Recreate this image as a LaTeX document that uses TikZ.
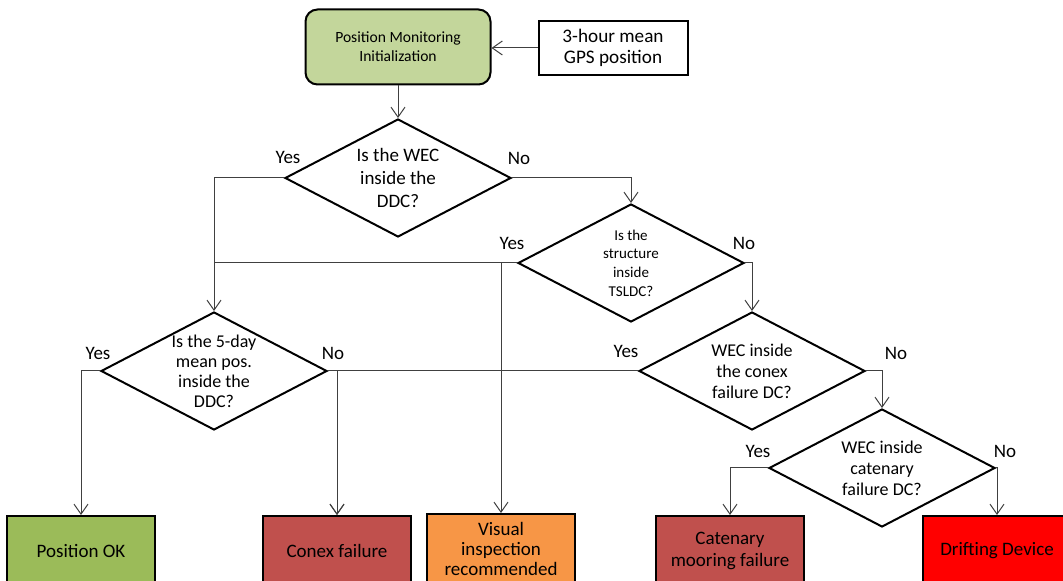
\documentclass[tikz,border=0pt]{standalone}
\usepackage{fontspec}
\setmainfont{Carlito}
\usepackage{tikz}
\usetikzlibrary{arrows.meta,shapes.geometric}
\definecolor{initgreen}{HTML}{C3D69B}
\definecolor{okgreen}{HTML}{9BBB59}
\definecolor{failred}{HTML}{C0504D}
\definecolor{warnorange}{HTML}{F79646}
\definecolor{alarmred}{HTML}{FF0000}
\definecolor{wiregray}{HTML}{404040}
\tikzset{
  startnode/.style={draw=black,line width=1pt,rounded corners=6pt,fill=initgreen,minimum width=92.5pt,minimum height=37.5pt,align=center,font=\fontsize{7.8}{9.5}\selectfont},
  inputnode/.style={draw=black,line width=1pt,fill=white,minimum width=74.5pt,minimum height=27pt,align=center,font=\fontsize{9.6}{10.5}\selectfont},
  decnode/.style={diamond,draw=black,line width=1pt,fill=white,aspect=1.9,inner sep=0pt,minimum width=113pt,minimum height=59pt,align=center,font=\fontsize{9}{10.5}\selectfont},
  outnode/.style={draw=black,line width=1pt,minimum width=74pt,minimum height=35pt,align=center,font=\fontsize{9.5}{11}\selectfont},
  flowline/.style={draw=wiregray,line width=0.5pt},
  flowarrow/.style={flowline,-{Straight Barb[length=5pt,width=7pt]}},
  anslabel/.style={font=\fontsize{9.5}{11}\selectfont},
}
\begin{document}
\begin{tikzpicture}[x=0.5pt,y=-0.5pt]
    \useasboundingbox (0,0) rectangle (1063,581);
    \node[startnode] (init) at (398,47) {Position Monitoring\\Initialization};
    \node[inputnode] (gps) at (613,48) {3-hour mean\\GPS position};
    \node[decnode,font=\fontsize{9.5}{11.5}\selectfont] (wec) at (398,178) {Is the WEC\\inside the\\DDC?};
    \node[decnode,font=\fontsize{7.5}{9.3}\selectfont] (tsldc) at (631,263) {Is the\\structure\\inside\\TSLDC?};
    \node[decnode,font=\fontsize{9}{10}\selectfont] (fiveday) at (214,371) {Is the 5-day\\mean pos.\\inside the\\DDC?};
    \node[decnode] (conexdc) at (752,371) {WEC inside\\the conex\\failure DC?};
    \node[decnode] (catdc) at (882,468) {WEC inside\\catenary\\failure DC?};
    \node[outnode,fill=okgreen] (posok) at (81,551) {Position OK};
    \node[outnode,fill=failred] (conex) at (337,551) {Conex failure};
    \node[outnode,fill=warnorange,font=\fontsize{9.5}{10.2}\selectfont] (visual) at (501,549) {Visual\\inspection\\recommended};
    \node[outnode,fill=failred] (catfail) at (730,551) {Catenary\\mooring failure};
    \node[outnode,fill=alarmred] (drift) at (997,551) {Drifting Device};
    \node[anslabel] (wecyes) at (288,157) {Yes};
    \node[anslabel] (wecno) at (519,158) {No};
    \node[anslabel] (tsldcyes) at (512,243) {Yes};
    \node[anslabel] (tsldcno) at (744,243) {No};
    \node[anslabel] (fivedayyes) at (98,353) {Yes};
    \node[anslabel] (fivedayno) at (333,353) {No};
    \node[anslabel] (conexdcyes) at (626,351) {Yes};
    \node[anslabel] (conexdcno) at (896,353) {No};
    \node[anslabel] (catdcyes) at (758,451) {Yes};
    \node[anslabel] (catdcno) at (1005,451) {No};
    \coordinate (yesjoin) at (tsldc.west -| visual.north);
    \draw[flowarrow] (gps.west) -- (gps.west -| init.east);
    \draw[flowarrow] (init) -- (wec);
    \draw[flowarrow] (wec.west) -| (fiveday.north);
    \draw[flowarrow] (wec.east) -| (tsldc.north);
    \draw[flowline] (tsldc.west) -- (tsldc.west -| fiveday.north);
    \draw[flowarrow] (yesjoin) -- (visual.north);
    \draw[flowarrow] (tsldc.east) -| (conexdc.north);
    \draw[flowarrow] (fiveday.west) -| (posok.north);
    \draw[flowarrow] (fiveday.east) -| (conex.north);
    \draw[flowarrow] (conexdc.west) -| (conex.north);
    \draw[flowarrow] (conexdc.east) -| (catdc.north);
    \draw[flowarrow] (catdc.west) -| (catfail.north);
    \draw[flowarrow] (catdc.east) -| (drift.north);
  \end{tikzpicture}
\end{document}
